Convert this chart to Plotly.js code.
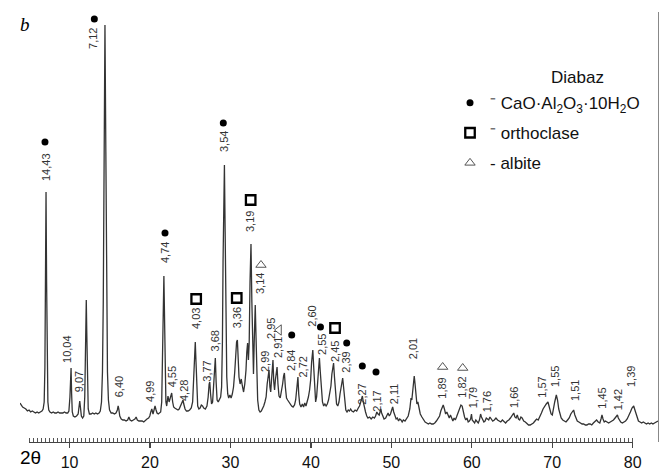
<!DOCTYPE html>
<html>
<head>
<meta charset="utf-8">
<script src="https://cdn.plot.ly/plotly-3.0.1.min.js"></script>
<style>html,body{margin:0;padding:0;background:#fff;}#chart{width:670px;height:470px;}</style>
</head>
<body>
<div id="chart"></div>
<script>
// ---- XRD scan (2θ in degrees, intensity in arbitrary units) ----
const twoTheta = [
3.88,4.05,4.2,4.4,4.6,4.8,5.0,5.2,5.4,5.6,
5.8,6.0,6.2,6.4,6.6,6.75,6.88,6.97,7.04,7.11,
7.18,7.25,7.34,7.45,7.6,7.8,8.0,8.2,8.4,8.6,
8.8,9.0,9.2,9.4,9.6,9.8,9.95,10.08,10.15,10.22,
10.29,10.37,10.5,10.7,10.9,11.1,11.22,11.3,11.38,11.5,
11.65,11.8,11.92,12.0,12.06,12.11,12.17,12.25,12.35,12.5,
12.7,12.9,13.1,13.3,13.5,13.7,13.85,14.0,14.12,14.22,
14.32,14.43,14.54,14.64,14.74,14.86,15.0,15.2,15.4,15.6,
15.8,15.97,16.07,16.15,16.27,16.45,16.65,16.85,17.05,17.25,
17.4,17.55,17.75,17.95,18.15,18.3,18.45,18.65,18.85,19.05,
19.25,19.45,19.65,19.85,20.0,20.12,20.25,20.4,20.52,20.65,
20.78,20.9,21.05,21.2,21.35,21.48,21.58,21.66,21.75,21.84,
21.92,22.0,22.1,22.26,22.4,22.52,22.62,22.72,22.84,22.96,
23.1,23.3,23.5,23.65,23.8,23.95,24.05,24.13,24.22,24.38,
24.55,24.75,24.95,25.15,25.32,25.45,25.55,25.65,25.74,25.84,
25.95,26.1,26.25,26.4,26.55,26.7,26.9,27.1,27.25,27.37,
27.45,27.55,27.67,27.8,27.93,28.04,28.14,28.24,28.36,28.5,
28.65,28.8,28.92,29.02,29.1,29.18,29.27,29.36,29.45,29.56,
29.68,29.8,29.95,30.1,30.25,30.4,30.55,30.68,30.78,30.88,
30.98,31.08,31.22,31.36,31.5,31.65,31.8,31.95,32.05,32.15,
32.25,32.35,32.45,32.57,32.68,32.78,32.88,32.97,33.04,33.1,
33.18,33.28,33.4,33.55,33.7,33.85,34.0,34.15,34.3,34.45,
34.58,34.7,34.81,34.92,35.02,35.12,35.22,35.3,35.4,35.5,
35.6,35.7,35.81,35.92,36.05,36.2,36.35,36.5,36.62,36.72,
36.84,36.98,37.12,37.28,37.45,37.62,37.8,37.98,38.12,38.24,
38.32,38.4,38.5,38.62,38.78,38.95,39.1,39.25,39.4,39.55,
39.7,39.85,39.98,40.1,40.25,40.36,40.48,40.6,40.72,40.85,
40.97,41.07,41.18,41.3,41.45,41.6,41.75,41.9,42.05,42.2,
42.35,42.5,42.62,42.73,42.83,42.94,43.06,43.2,43.35,43.5,
43.63,43.75,43.86,43.96,44.07,44.2,44.35,44.5,44.65,44.8,
44.95,45.1,45.3,45.5,45.7,45.9,46.05,46.2,46.3,46.41,
46.52,46.65,46.8,46.95,47.1,47.3,47.5,47.7,47.9,48.05,
48.2,48.35,48.5,48.6,48.69,48.8,48.95,49.1,49.3,49.45,
49.6,49.75,49.9,50.05,50.17,50.3,50.45,50.6,50.75,50.9,
51.05,51.2,51.35,51.5,51.7,51.9,52.1,52.3,52.45,52.55,
52.65,52.75,52.85,52.95,53.05,53.18,53.3,53.45,53.6,53.8,
54.0,54.2,54.4,54.6,54.8,55.0,55.2,55.4,55.6,55.8,
56.0,56.15,56.3,56.45,56.6,56.75,56.9,57.05,57.2,57.35,
57.5,57.65,57.8,57.95,58.1,58.3,58.5,58.65,58.8,58.95,
59.1,59.25,59.4,59.55,59.7,59.85,59.96,60.05,60.2,60.35,
60.5,60.65,60.8,60.95,61.09,61.2,61.35,61.5,61.65,61.8,
61.95,62.1,62.25,62.4,62.6,62.8,63.0,63.2,63.4,63.6,
63.8,64.0,64.2,64.4,64.6,64.8,65.0,65.21,65.35,65.5,
65.65,65.8,65.95,66.1,66.25,66.45,66.65,66.85,67.05,67.25,
67.45,67.65,67.85,68.05,68.25,68.45,68.65,68.85,69.05,69.25,
69.46,69.65,69.85,70.0,70.15,70.3,70.5,70.65,70.8,70.95,
71.1,71.3,71.5,71.7,71.9,72.1,72.3,72.5,72.65,72.8,
72.95,73.1,73.3,73.5,73.7,73.9,74.1,74.3,74.5,74.7,
74.9,75.1,75.3,75.5,75.7,75.9,76.05,76.17,76.3,76.45,
76.6,76.8,77.0,77.2,77.4,77.6,77.8,77.95,78.09,78.2,
78.35,78.5,78.7,78.9,79.1,79.3,79.5,79.7,79.9,80.11,
80.3,80.5,80.7,80.9,81.1,81.3,81.5,81.7,81.9,82.1,
82.3,82.5,82.7,82.9,83.13
];
const intensity = [
39,37,35,34,33,31,32,30,31,30,
29,30,29,30,31,33,40,75,160,250,
160,75,40,32,30,29,30,29,29,30,
29,29,29,30,29,29,31,45,62,74,
48,30,26,25,26,28,36,41,35,26,
24,26,45,95,135,142,110,55,33,28,
28,29,28,29,28,29,31,40,70,140,
290,417,290,140,70,42,32,29,29,28,
29,32,36,33,26,23,22,22,21,22,
25,22,21,22,23,25,22,21,21,21,
20,22,23,24,26,30,33,28,32,36,
32,29,28,29,30,40,80,135,166,120,
65,40,36,46,40,43,46,49,40,35,
34,33,32,33,36,39,41,42,38,33,
31,31,32,34,40,60,85,100,80,50,
36,33,34,37,36,34,33,36,45,58,
60,48,38,40,55,75,84,60,42,40,
42,45,55,100,180,245,277,210,120,65,
48,44,47,44,48,55,70,90,100,102,
85,65,58,63,56,50,58,72,90,99,
82,100,160,198,140,80,68,100,130,137,
110,70,42,32,30,31,33,36,40,45,
58,68,72,55,50,62,78,82,60,52,
62,72,75,58,46,44,50,58,66,69,
55,44,42,40,38,36,35,37,42,52,
62,65,48,38,35,38,35,39,36,40,
45,52,62,80,92,75,48,40,45,60,
78,84,70,50,40,36,38,36,38,42,
48,56,68,76,79,65,46,38,36,40,
48,55,62,64,55,40,32,30,32,31,
33,31,30,32,31,34,36,40,44,46,
40,34,30,26,24,25,23,25,24,26,
30,28,27,30,33,29,25,23,24,27,
29,26,28,32,35,30,26,23,24,21,
23,22,20,22,21,23,26,33,44,42,
50,60,66,58,45,38,40,33,28,25,
22,20,19,18,19,18,18,19,21,23,
26,31,35,37,33,28,30,26,24,27,
23,21,24,22,25,29,34,37,36,30,
25,22,24,20,21,23,28,22,20,19,
22,20,19,22,28,25,23,20,21,24,
23,22,25,23,21,22,24,22,21,20,
22,20,19,21,22,24,26,29,25,24,
27,23,22,25,24,21,20,18,17,17,
18,19,21,23,22,25,29,33,36,38,
40,35,28,27,32,40,47,42,33,27,
24,22,21,20,22,24,28,31,32,27,
23,21,20,19,18,18,17,17,18,18,
17,19,21,22,20,19,23,27,23,20,
21,20,19,20,21,22,24,26,27,24,
21,20,19,20,21,23,26,30,34,36,
31,25,21,20,19,20,19,18,19,18,
19,18,19,20,21
];

// ---- d-spacing labels (Å) ----
const dLabels = ["14,43","7,12","10,04","9,07","6,40","4,99","4,74","4,55","4,28","4,03",
  "3,77","3,68","3,54","3,36","3,19","3,14","2,99","2,95","2,91","2,84",
  "2,72","2,60","2,55","2,45","2,39","2,27","2,17","2,11","2,01","1,89",
  "1,82","1,79","1,76","1,66","1,57","1,55","1,51","1,45","1,42","1,39"];
const labelTheta = [7.11,12.94,9.71,11.24,16.21,20.02,21.89,22.80,24.25,25.74,
  27.07,28.16,29.22,30.87,32.45,33.69,34.31,35.06,35.93,37.54,
  38.97,40.11,41.39,43.01,44.34,46.32,48.19,50.37,52.73,56.26,
  58.75,60.19,61.93,65.24,68.68,70.34,72.82,76.14,78.20,79.78];
const labelHeight = [275,404,93,60,55,51,189,65,51,123,
  71,101,300,124,220,158,80,113,94,81,
  75,126,98,90,80,48,41,48,93,54,
  55,44,40,45,55,65,51,44,42,65];

// ---- phase markers ----
const caoTheta = [6.98,13.11,21.89,29.13,37.63,41.20,44.46,46.40,48.10];
const caoHeight = [300,423,209,319,107,115,99,76,70];
const orthoTheta = [25.76,30.80,32.53,43.01];
const orthoHeight = [143,144,242,114];
const albiteTheta = [33.81,36.05,56.38,58.87];
const albiteHeight = [177,112,75,74];
const albiteSymbols = ["triangle-up-open","triangle-left-open","triangle-up-open","triangle-up-open"];

const legendNames = ["⁻ CaO·Al<sub>2</sub>O<sub>3</sub>·10H<sub>2</sub>O","⁻ orthoclase","- albite"];
const legendTitle = "Diabaz";
const tickValues = [10,20,30,40,50,60,70,80];
const tickLabels = ["10","20","30","40","50","60","70","80"];

const traces = [
  {x: twoTheta, y: intensity, type: "scatter", mode: "lines",
   line: {color: "#333", width: 1.3}, showlegend: false, hoverinfo: "skip"},
  {x: caoTheta, y: caoHeight, type: "scatter", mode: "markers", name: legendNames[0],
   legendgroup: "a", cliponaxis: false,
   marker: {symbol: "circle", size: 7, color: "#000"}},
  {x: orthoTheta, y: orthoHeight, type: "scatter", mode: "markers", name: legendNames[1],
   legendgroup: "b", cliponaxis: false,
   marker: {symbol: "square-open", size: 9.5, color: "#000", line: {width: 2.3, color: "#000"}}},
  {x: albiteTheta, y: albiteHeight, type: "scatter", mode: "markers", name: legendNames[2],
   legendgroup: "c", cliponaxis: false,
   marker: {symbol: albiteSymbols, size: 9, color: "#555", line: {width: 1, color: "#555"}}},
  {x: [tickValues[0]], y: [0], xaxis: "x2", yaxis: "y", type: "scatter", mode: "markers",
   marker: {opacity: 0}, showlegend: false, hoverinfo: "skip"}
];

const annotations = dLabels.map((t, i) => ({
  x: labelTheta[i], y: labelHeight[i], xref: "x", yref: "y", text: t,
  showarrow: false, textangle: -90, xanchor: "center", yanchor: "middle",
  font: {family: "Liberation Sans, Arial, sans-serif", size: 11, color: "#333"}
}));
annotations.push(
  {xref: "paper", yref: "paper", x: 0.8746, y: 0.8488, text: legendTitle, showarrow: false,
   xanchor: "center", yanchor: "middle",
   font: {family: "Liberation Sans, Arial, sans-serif", size: 17, color: "#111"}},
  {xref: "paper", yref: "paper", x: 0.0078, y: 0.972, text: "<i>b</i>", showarrow: false,
   xanchor: "center", yanchor: "middle",
   font: {family: "Liberation Serif, Times New Roman, serif", size: 19, color: "#000"}},
  {xref: "paper", yref: "paper", x: 0.0165, y: -0.037, text: "2θ", showarrow: false,
   xanchor: "center", yanchor: "middle",
   font: {family: "Liberation Sans, Arial, sans-serif", size: 19, color: "#000"}}
);

const layout = {
  width: 670, height: 470,
  margin: {l: 20, r: 12, t: 12, b: 28, pad: 0},
  paper_bgcolor: "#fff", plot_bgcolor: "rgba(0,0,0,0)",
  showlegend: true,
  legend: {x: 0.674, y: 0.83, xanchor: "left", yanchor: "top", bgcolor: "rgba(0,0,0,0)",
    tracegroupgap: 5,
    font: {family: "Liberation Sans, Arial, sans-serif", size: 17, color: "#111"}},
  xaxis: {range: [3.876, 83.13], showline: false, showgrid: false, zeroline: false,
    showticklabels: false, ticks: "", domain: [0, 1]},
  xaxis2: {range: [5, 80], domain: [0.01458, 0.96034], anchor: "y",
    showline: true, linecolor: "#444", linewidth: 1.4, showgrid: false, zeroline: false,
    tickmode: "array", tickvals: tickValues, ticktext: tickLabels,
    ticks: "outside", ticklen: 5, tickwidth: 1.3, tickcolor: "#444",
    ticklabelstandoff: 0,
    minor: {tickmode: "linear", tick0: 0, dtick: 0.5, ticks: "inside", ticklen: 4, tickwidth: 1, tickcolor: "#555", showgrid: false},
    tickfont: {family: "Liberation Sans, Arial, sans-serif", size: 16, color: "#111"}},
  yaxis: {range: [0, 430], side: "right", showline: true, linecolor: "#888", linewidth: 1.3,
    showgrid: false, zeroline: false, showticklabels: false, ticks: ""},
  annotations: annotations
};

Plotly.newPlot("chart", traces, layout, {staticPlot: true, displayModeBar: false});
</script>
</body>
</html>
